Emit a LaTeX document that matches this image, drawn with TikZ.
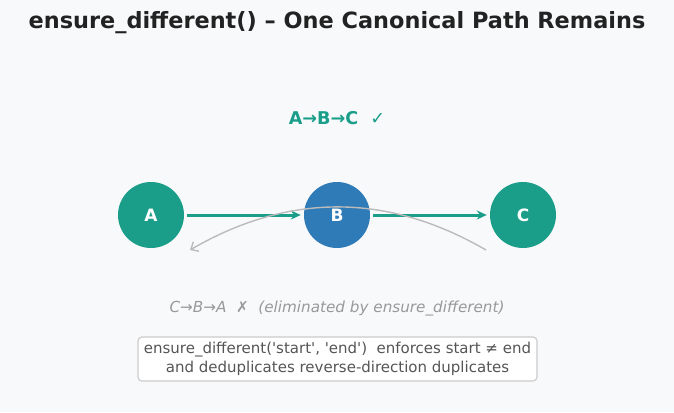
\documentclass[tikz,border=0pt]{standalone}
\usepackage{fontspec}
\setmainfont{DejaVu Sans}
\usetikzlibrary{arrows.meta}
\definecolor{bg}{HTML}{F8F9FB}
\definecolor{teal}{HTML}{1A9E8A}
\definecolor{blueB}{HTML}{2E7BB8}
\definecolor{titlec}{HTML}{222222}
\definecolor{grayarc}{HTML}{BBBBBB}
\definecolor{graytxt}{HTML}{999999}
\definecolor{boxtxt}{HTML}{555555}
\definecolor{boxline}{HTML}{CCCCCC}
\tikzset{
  vnode/.style={circle, minimum size=66pt, inner sep=0pt, text=white, font=\fontsize{17}{20}\selectfont\bfseries},
  flow/.style={teal, line width=3pt, -{Stealth[length=10pt,width=9pt]}},
}
\begin{document}
\begin{tikzpicture}[x=1pt,y=-1pt]
\fill[bg] (0,0) rectangle (674,412);
\useasboundingbox (0,0) rectangle (674,412);
\node[titlec, font=\fontsize{22.4}{26}\selectfont\bfseries] (title) at (337,23) {ensure\_different() – One Canonical Path Remains};
\node[teal, font=\fontsize{17.6}{21}\selectfont\bfseries] (ok) at (337,118) {A→B→C \ ✓};
\node[vnode, fill=teal] (A) at (151,215) {A};
\node[vnode, fill=blueB] (B) at (337,215) {B};
\node[vnode, fill=teal] (C) at (523,215) {C};
\draw[flow] ([xshift=3pt]A.east) -- ([xshift=-3pt]B.west);
\draw[flow] ([xshift=3pt]B.east) -- ([xshift=-3pt]C.west);
\coordinate (r0) at (486,250);
\coordinate (r1) at (190,250);
\draw[grayarc, line width=1.4pt, -{Straight Barb[length=6pt,width=11pt]}] (r0) .. controls (387.3,192.7) and (288.7,192.7) .. (r1);
\node[graytxt, font=\fontsize{15.2}{18}\selectfont\itshape] (bad) at (337,309) {C→B→A \ ✗ \ (eliminated by ensure\_different)};
\node[draw=boxline, line width=1.2pt, fill=white, rounded corners=4pt, minimum width=399pt, minimum height=44pt, align=center, text=boxtxt, font=\fontsize{15}{19.5}\selectfont] (box) at (337.5,359) {ensure\_different(\textquotesingle start\textquotesingle, \textquotesingle end\textquotesingle) \ enforces start ≠ end\\and deduplicates reverse-direction duplicates};
\end{tikzpicture}
\end{document}
